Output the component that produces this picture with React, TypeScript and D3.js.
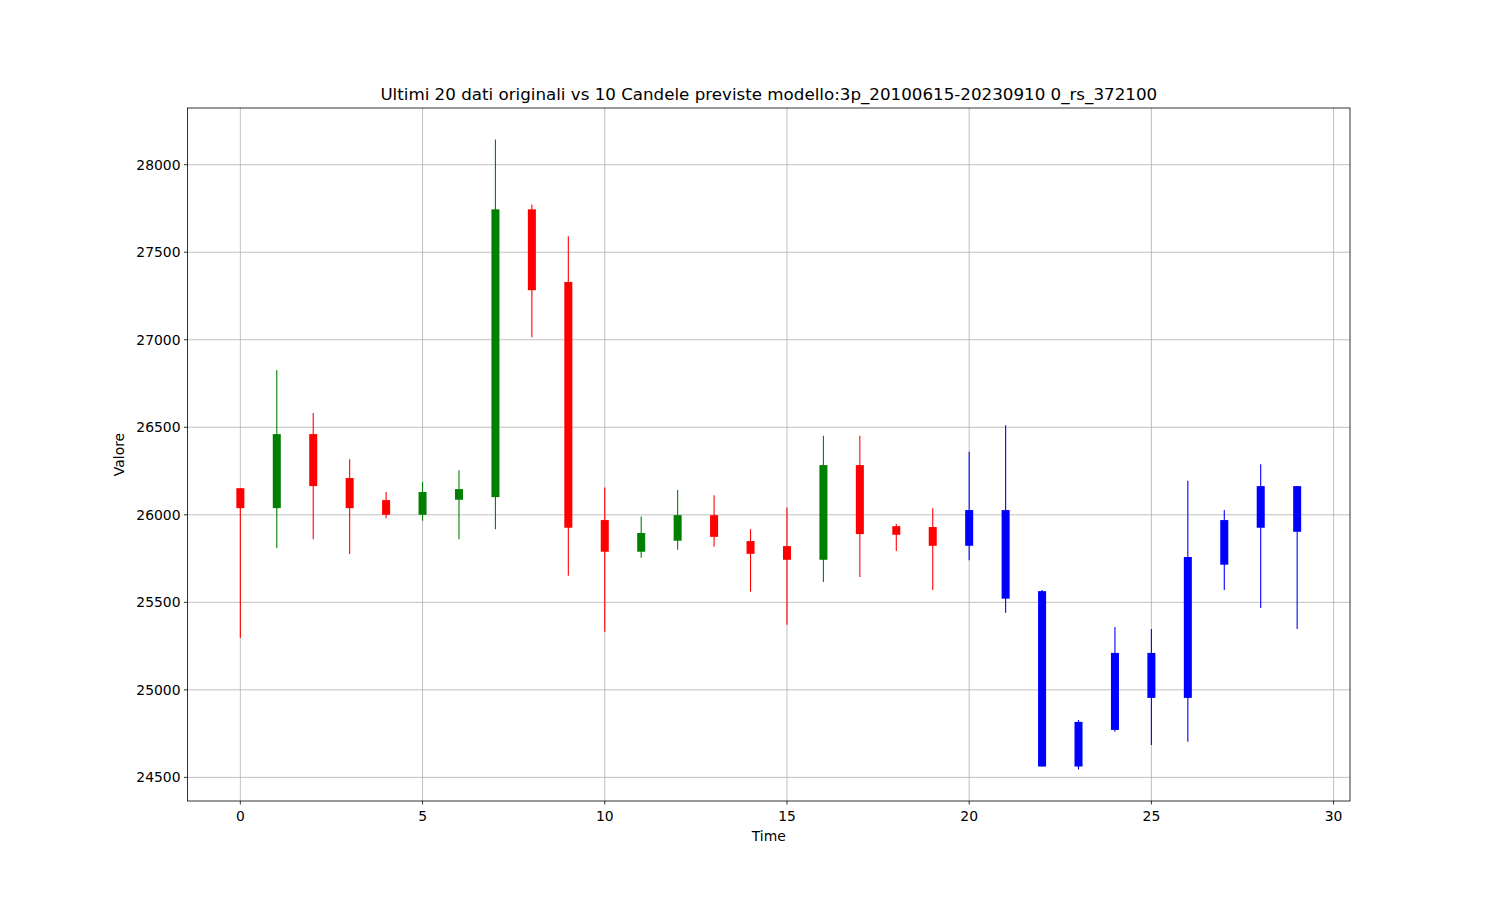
import React from "react";
import * as d3 from "d3";

// Candle data (index = time step)
const opens = [26152, 26038, 26461, 26210, 26084, 26000, 26086, 26101, 27745, 27330,
  25970, 25789, 25852, 25998, 25850, 25821, 25743, 26284, 25935, 25930,
  25823, 26027, 25564, 24562, 24771, 25211, 24954, 25715, 25926, 26164];
const closes = [26038, 26461, 26164, 26038, 26000, 26130, 26147, 27745, 27283, 25926,
  25789, 25896, 25998, 25874, 25777, 25743, 26284, 25890, 25886, 25823,
  26027, 25521, 24562, 24817, 25211, 24954, 25759, 25970, 26164, 25903];
const highs = [26152, 26826, 26582, 26318, 26130, 26187, 26255, 28144, 27773, 27592,
  26156, 25991, 26141, 26112, 25918, 26042, 26451, 26451, 25947, 26038,
  26360, 26512, 25570, 24828, 25359, 25348, 26194, 26027, 26289, 26164];
const lows = [25296, 25810, 25861, 25776, 25981, 25966, 25861, 25918, 27014, 25652,
  25332, 25755, 25800, 25817, 25561, 25372, 25616, 25644, 25793, 25570,
  25741, 25441, 24562, 24545, 24761, 24685, 24704, 25570, 25467, 25348];
const nOriginal = 20;
const xTicks = [0, 5, 10, 15, 20, 25, 30];
const yTicks = [24500, 25000, 25500, 26000, 26500, 27000, 27500, 28000];
const title = "Ultimi 20 dati originali vs 10 Candele previste modello:3p_20100615-20230910 0_rs_372100";

export default function App() {
  const W = 1500, H = 900;
  const left = 187.5, right = 1350, top = 108, bottom = 801;
  const n = opens.length;
  const xPad = (n - 1) * 0.05;
  const x = d3.scaleLinear().domain([0 - xPad, n - 1 + xPad]).range([left, right]);
  const yMin = d3.min(lows)!, yMax = d3.max(highs)!;
  const yPad = (yMax - yMin) * 0.05;
  const y = d3.scaleLinear().domain([yMin - yPad, yMax + yPad]).range([bottom, top]);
  const bw = x(0.22) - x(0);
  const font = "DejaVu Sans, sans-serif";
  const color = (i: number) =>
    i >= nOriginal ? "#0000ff" : closes[i] >= opens[i] ? "#008000" : "#ff0000";

  return (
    <svg width={W} height={H} style={{ display: "block", position: "absolute", left: 0, top: 0 }}
      fontFamily={font}>
      <rect x={0} y={0} width={W} height={H} fill="#fff" />
      {/* grid */}
      {xTicks.map((t) => (
        <line key={"gx" + t} x1={x(t)} x2={x(t)} y1={top} y2={bottom} stroke="#b0b0b0" strokeWidth={0.8} />
      ))}
      {yTicks.map((t) => (
        <line key={"gy" + t} x1={left} x2={right} y1={y(t)} y2={y(t)} stroke="#b0b0b0" strokeWidth={0.8} />
      ))}
      {/* candles */}
      {opens.map((o, i) => {
        const c = closes[i];
        const col = color(i);
        const yt = y(Math.max(o, c));
        const yb = y(Math.min(o, c));
        return (
          <g key={"c" + i}>
            <line x1={x(i)} x2={x(i)} y1={y(highs[i])} y2={y(lows[i])} stroke={col} strokeWidth={1.1} />
            <rect x={x(i) - bw / 2} y={yt} width={bw} height={Math.max(yb - yt, 1)} fill={col} />
          </g>
        );
      })}
      {/* spines */}
      <rect x={left} y={top} width={right - left} height={bottom - top} fill="none" stroke="#000" strokeWidth={0.8} />
      {/* x ticks */}
      {xTicks.map((t) => (
        <g key={"tx" + t}>
          <line x1={x(t)} x2={x(t)} y1={bottom} y2={bottom + 3.5} stroke="#000" strokeWidth={0.8} />
          <text x={x(t)} y={bottom + 20} fontSize={13.9} textAnchor="middle" fill="#000">{t}</text>
        </g>
      ))}
      {/* y ticks */}
      {yTicks.map((t) => (
        <g key={"ty" + t}>
          <line x1={left - 3.5} x2={left} y1={y(t)} y2={y(t)} stroke="#000" strokeWidth={0.8} />
          <text x={left - 7} y={y(t)} dy="0.35em" fontSize={13.9} textAnchor="end" fill="#000">{t}</text>
        </g>
      ))}
      <text x={(left + right) / 2} y={841} fontSize={13.9} textAnchor="middle" fill="#000">Time</text>
      <text transform={`translate(124, ${(top + bottom) / 2}) rotate(-90)`} fontSize={13.9} textAnchor="middle" fill="#000">Valore</text>
      <text x={(left + right) / 2} y={100} fontSize={16.7} textAnchor="middle" fill="#000">{title}</text>
    </svg>
  );
}
